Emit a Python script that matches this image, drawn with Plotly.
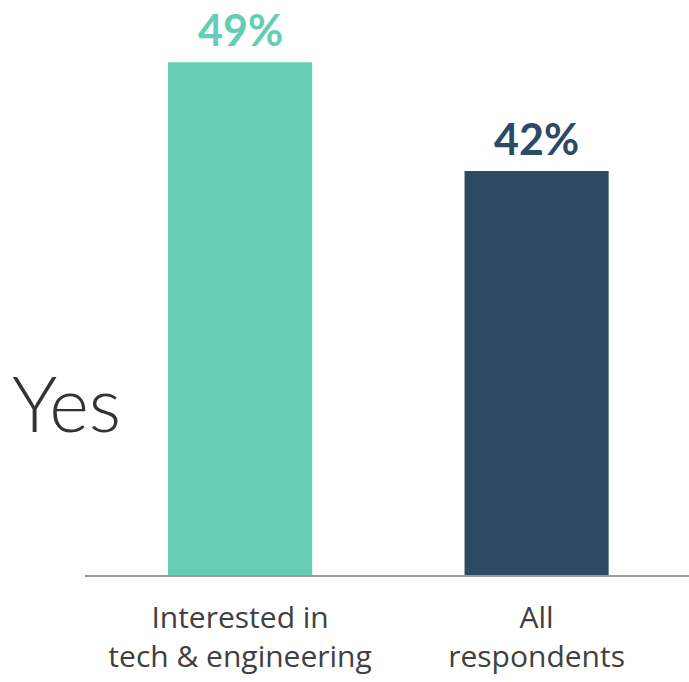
import plotly.graph_objects as go

categories = ["Interested in<br>tech & engineering", "All<br>respondents"]
values = [49, 42]
labels = ["49%", "42%"]
colors = ["#66CDB5", "#2C4A63"]

fig = go.Figure()
fig.add_trace(go.Bar(
    x=categories, y=values,
    marker=dict(color=colors, line=dict(width=0)),
    width=0.486,
    cliponaxis=False,
))

for c, v, t, col in zip(categories, values, labels, colors):
    fig.add_annotation(
        x=c, y=v, text=t, showarrow=False, yanchor="bottom", yshift=5,
        font=dict(family="Lato", size=43, color=col, weight=700),
    )

fig.add_annotation(
    text="Yes", xref="paper", yref="paper", x=-0.124, y=0.3,
    xanchor="left", yanchor="middle", showarrow=False,
    font=dict(family="Lato", size=76, color="#333333", weight=300),
)

fig.update_layout(
    width=689, height=682,
    margin=dict(l=85, r=0, t=0, b=107),
    plot_bgcolor="white", paper_bgcolor="white",
    showlegend=False,
    xaxis=dict(range=[-0.523, 1.514], showline=True, linecolor="#999999", linewidth=2,
               ticks="", ticklabelstandoff=15, automargin=False,
               tickfont=dict(family="Open Sans", size=30, color="#404040"),
               showgrid=False, zeroline=False),
    yaxis=dict(range=[16, 53], visible=False, showgrid=False, zeroline=False),
)

fig.write_html("out.html")
